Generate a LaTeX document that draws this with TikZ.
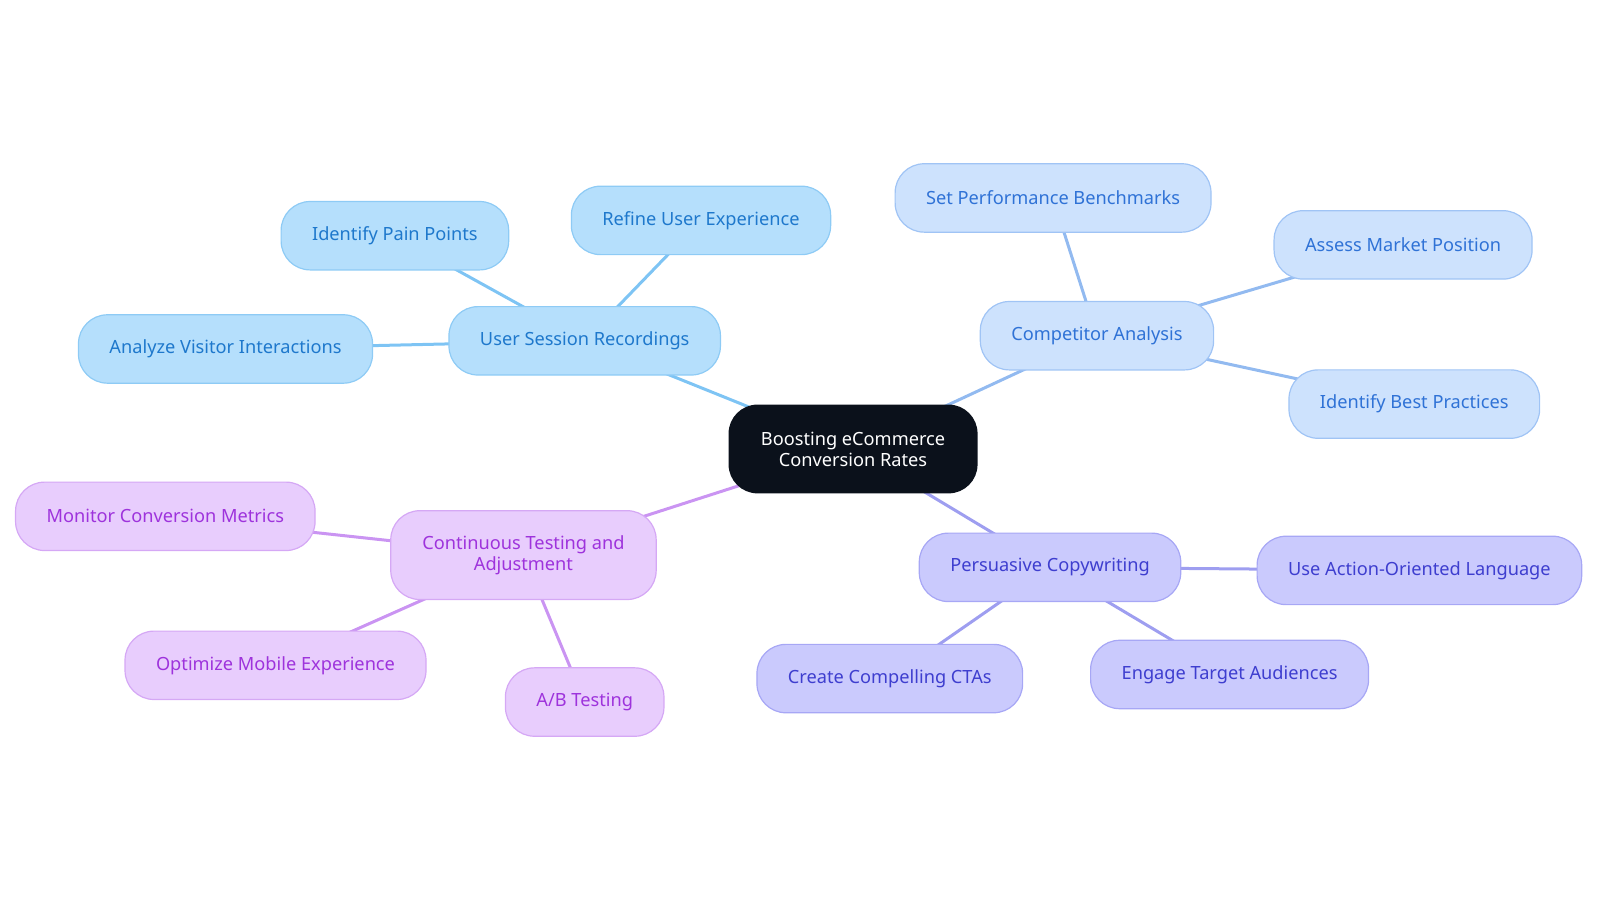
\documentclass[tikz,border=0pt]{standalone}
\usepackage{fontspec}
\setmainfont{Noto Sans}
\usepackage{xcolor}
\usepackage{tikz}
\usetikzlibrary{backgrounds}
\definecolor{colorRoot}{HTML}{0B111B}
\definecolor{colorRecF}{HTML}{B5DFFC}
\definecolor{colorRecD}{HTML}{8ECBF5}
\definecolor{colorRecT}{HTML}{1E78CC}
\definecolor{colorRecL}{HTML}{7EC4F4}
\definecolor{colorCompF}{HTML}{CDE2FD}
\definecolor{colorCompD}{HTML}{A0C4F5}
\definecolor{colorCompT}{HTML}{2F72D6}
\definecolor{colorCompL}{HTML}{92BAF0}
\definecolor{colorTestF}{HTML}{E8CDFD}
\definecolor{colorTestD}{HTML}{D5A8F5}
\definecolor{colorTestT}{HTML}{9E33DC}
\definecolor{colorTestL}{HTML}{CA94F2}
\definecolor{colorCopyF}{HTML}{CACAFD}
\definecolor{colorCopyD}{HTML}{A7A7F5}
\definecolor{colorCopyT}{HTML}{3E3ECF}
\definecolor{colorCopyL}{HTML}{9E9EF0}

\begin{document}
\begin{tikzpicture}[x=0.5102pt, y=-0.5102pt,
        box/.style={rounded corners=14.5pt, line width=0.6pt, minimum height=34.2pt,
            inner xsep=15.5pt, align=center, font=\fontsize{9.1}{10.5}\selectfont},
        rec/.style={box, fill=colorRecF, draw=colorRecD, text=colorRecT},
        comp/.style={box, fill=colorCompF, draw=colorCompD, text=colorCompT},
        test/.style={box, fill=colorTestF, draw=colorTestD, text=colorTestT},
        copy/.style={box, fill=colorCopyF, draw=colorCopyD, text=colorCopyT},
        link/.style={line width=1.5pt}]
        \useasboundingbox (0,0) rectangle (1568,885);

        \node[box, fill=colorRoot, text=white, minimum height=44.4pt, minimum width=124.5pt] (root) at (836,440) {Boosting eCommerce\\Conversion Rates};

        \node[rec] (rec) at (573,334) {User Session Recordings};
        \node[rec] (pain) at (387,231) {Identify Pain Points};
        \node[rec] (refine) at (687,216) {Refine User Experience};
        \node[rec] (visit) at (221,342) {Analyze Visitor Interactions};

        \node[comp] (comp) at (1075,329) {Competitor Analysis};
        \node[comp] (bench) at (1032,194) {Set Performance Benchmarks};
        \node[comp] (market) at (1375,240) {Assess Market Position};
        \node[comp] (best) at (1386,396) {Identify Best Practices};

        \node[copy] (copy) at (1029,556) {Persuasive Copywriting};
        \node[copy] (action) at (1391,559) {Use Action-Oriented Language};
        \node[copy] (cta) at (872,665) {Create Compelling CTAs};
        \node[copy] (engage) at (1205,661) {Engage Target Audiences};

        \node[test, minimum height=44.4pt, minimum width=132.7pt] (test) at (513,544) {Continuous Testing and\\Adjustment};
        \node[test] (monitor) at (162,506) {Monitor Conversion Metrics};
        \node[test] (mobile) at (270,652) {Optimize Mobile Experience};
        \node[test] (ab) at (573,688) {A/B Testing};

        % links run centre to centre, hidden under the boxes
        \begin{pgfonlayer}{background}
            \draw[link, colorRecL] (root.center) -- (rec.center);
            \foreach \n in {pain, refine, visit}
                \draw[link, colorRecL] (rec.center) -- (\n.center);
            \draw[link, colorCompL] (root.center) -- (comp.center);
            \foreach \n in {bench, market, best}
                \draw[link, colorCompL] (comp.center) -- (\n.center);
            \draw[link, colorCopyL] (root.center) -- (copy.center);
            \foreach \n in {action, cta, engage}
                \draw[link, colorCopyL] (copy.center) -- (\n.center);
            \draw[link, colorTestL] (root.center) -- (test.center);
            \foreach \n in {monitor, mobile, ab}
                \draw[link, colorTestL] (test.center) -- (\n.center);
        \end{pgfonlayer}
    \end{tikzpicture}
\end{document}
